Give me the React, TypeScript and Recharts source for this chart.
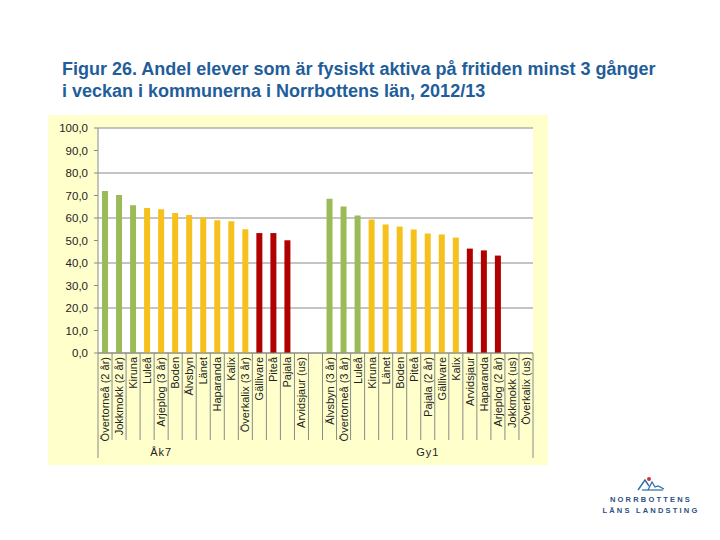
import { BarChart, Bar, XAxis, YAxis, CartesianGrid, Cell } from 'recharts'

// categories along the axis, Åk7 first, one empty slot, then Gy1
const categories = [
  'Övertorneå (2 år)', 'Jokkmokk (2 år)', 'Kiruna', 'Luleå', 'Arjeplog (3 år)', 'Boden', 'Älvsbyn',
  'Länet', 'Haparanda', 'Kalix', 'Överkalix (3 år)', 'Gällivare', 'Piteå', 'Pajala', 'Arvidsjaur (us)',
  '',
  'Älvsbyn (3 år)', 'Övertorneå (3 år)', 'Luleå', 'Kiruna', 'Länet', 'Boden', 'Piteå', 'Pajala (2 år)',
  'Gällivare', 'Kalix', 'Arvidsjaur', 'Haparanda', 'Arjeplog (2 år)', 'Jokkmokk (us)', 'Överkalix (us)',
]

const values: (number | null)[] = [
  72.0, 70.2, 65.7, 64.4, 63.9, 62.2, 61.3, 60.2, 59.0, 58.6, 55.0, 53.3, 53.3, 50.1, null,
  null,
  68.6, 65.1, 61.1, 59.3, 57.1, 56.2, 54.9, 53.1, 52.7, 51.3, 46.4, 45.6, 43.3, null, null,
]

// h = high, m = middle, l = low
const levels = [
  'h', 'h', 'h', 'm', 'm', 'm', 'm', 'm', 'm', 'm', 'm', 'l', 'l', 'l', '',
  '',
  'h', 'h', 'h', 'm', 'm', 'm', 'm', 'm', 'm', 'm', 'l', 'l', 'l', '', '',
]

const groupLabels = ['Åk7', 'Gy1']
const groupLabelAt = [4, 23]

const yTicks = [0, 10, 20, 30, 40, 50, 60, 70, 80, 90, 100]

const LEVEL_COLORS: Record<string, string> = {
  h: '#9BBB59',
  m: '#F6C11C',
  l: '#B00000',
  '': 'transparent',
}

const data = categories.map((name, i) => ({ name, value: values[i], level: levels[i] }))

const CHART_W = 500
const CHART_H = 350
const Y_AXIS_W = 50
const RIGHT = 15
const STEP = (CHART_W - Y_AXIS_W - RIGHT) / categories.length
const LINE = '#8a8a8a'

const CategoryTick = (props: any) => {
  const { x, y, payload, index } = props
  const half = STEP / 2
  const g = groupLabelAt.indexOf(index)
  const last = index === categories.length - 1
  return (
    <g>
      <line x1={x - half} x2={x - half} y1={y} y2={y + (index === 0 ? 105 : 87)} stroke={LINE} />
      {last && <line x1={x + half} x2={x + half} y1={y} y2={y + 105} stroke={LINE} />}
      <text
        transform={`translate(${x + 4},${y + 4}) rotate(-90)`}
        textAnchor="end"
        fontSize={11}
        fill="#222"
        fontFamily="'Liberation Sans', Arial, sans-serif"
      >
        {payload.value}
      </text>
      {g >= 0 && (
        <text x={x} y={y + 103} textAnchor="middle" fontSize={11} fill="#222" letterSpacing={1}
          fontFamily="'Liberation Sans', Arial, sans-serif">
          {groupLabels[g]}
        </text>
      )}
    </g>
  )
}

function Logo() {
  return (
    <div style={{ position: 'absolute', left: 598, top: 474, width: 106, textAlign: 'center', color: '#2B527F',
      fontFamily: "'Liberation Sans', Arial, sans-serif", fontSize: 7.5, fontWeight: 'bold', letterSpacing: 2.2, lineHeight: '11px' }}>
      <svg width={30} height={18} viewBox="0 0 30 18" style={{ display: 'block', margin: '0 auto 2px' }}>
        <polyline points="2,16 9,6 13,12" fill="none" stroke="#2B6CA8" strokeWidth={1.4} />
        <polyline points="12,16 16,8 19,13 22,12 28,15" fill="none" stroke="#2B6CA8" strokeWidth={1.2} />
        <line x1={6} y1={16} x2={27} y2={16} stroke="#2B6CA8" strokeWidth={1.2} />
        <circle cx={13} cy={5} r={2} fill="#D8322E" />
      </svg>
      <div>NORRBOTTENS</div>
      <div>LÄNS LANDSTING</div>
    </div>
  )
}

export default function App() {
  return (
    <div style={{ position: 'absolute', left: 0, top: 0, width: 720, height: 540, background: '#fff', overflow: 'hidden' }}>
      <div style={{ position: 'absolute', left: 62, top: 58, color: '#1F5E9A', fontWeight: 'bold', fontSize: 18,
        lineHeight: '22px', fontFamily: "'Liberation Sans', Arial, sans-serif", whiteSpace: 'nowrap' }}>
        <div>Figur 26. Andel elever som är fysiskt aktiva på fritiden minst 3 gånger</div>
        <div>i veckan i kommunerna i Norrbottens län, 2012/13</div>
      </div>
      <div style={{ position: 'absolute', left: 48, top: 115, width: CHART_W, height: CHART_H, background: '#FFFFCC' }}>
        <BarChart width={CHART_W} height={CHART_H} data={data}
          margin={{ top: 13, right: RIGHT, bottom: 0, left: 0 }} barSize={6}>
          <CartesianGrid vertical={false} stroke={LINE} fill="#fff" fillOpacity={1} />
          <XAxis
            dataKey="name"
            interval={0}
            height={112}
            tickSize={0}
            tickMargin={0}
            tickLine={false}
            axisLine={{ stroke: LINE }}
            tick={<CategoryTick />}
          />
          <YAxis
            width={Y_AXIS_W}
            domain={[0, 100]}
            ticks={yTicks}
            tickFormatter={(v: number) => v.toFixed(1).replace('.', ',')}
            tickSize={4}
            tickMargin={6}
            tickLine={{ stroke: LINE }}
            axisLine={{ stroke: LINE }}
            tick={{ fontSize: 11.5, fill: '#222', fontFamily: "'Liberation Sans', Arial, sans-serif" }}
          />
          <Bar dataKey="value" isAnimationActive={false}>
            {data.map((d, i) => (
              <Cell key={i} fill={LEVEL_COLORS[d.level]} />
            ))}
          </Bar>
        </BarChart>
      </div>
      <Logo />
    </div>
  )
}
